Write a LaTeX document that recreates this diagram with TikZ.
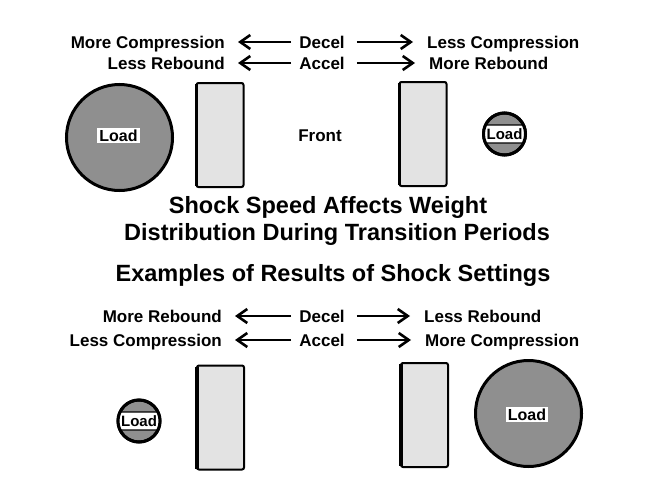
\documentclass[tikz,border=0pt]{standalone}
\usepackage{fontspec}
\setmainfont{Liberation Sans}
\usetikzlibrary{arrows.meta}

\definecolor{loadgray}{gray}{0.56}
\definecolor{shockgray}{gray}{0.89}

\tikzset{
  lbl/.style={font=\bfseries\fontsize{17}{19}\selectfont, inner sep=1pt, text height=12.3pt, text depth=0pt},
  ttl/.style={font=\bfseries\fontsize{23.5}{26}\selectfont, inner sep=0pt},
  larr/.style={-{Straight Barb[length=10pt,width=14pt]}, line width=2.6pt, shorten <=7pt, shorten >=12pt},
  rarr/.style={-{Straight Barb[length=10pt,width=14pt]}, line width=2.6pt, shorten <=11pt, shorten >=13pt},
  shockbox/.style={draw=black, line width=2pt, fill=shockgray, rounded corners=2pt, minimum width=47pt, minimum height=104pt, inner sep=0pt},
  bigload/.style={circle, draw=black, line width=3pt, fill=loadgray, minimum size=106pt, inner sep=0pt},
  smallload/.style={circle, draw=black, line width=3pt, fill=loadgray, minimum size=42pt, inner sep=0pt},
  loadtag/.style={fill=white, font=\bfseries\fontsize{16}{17}\selectfont, inner xsep=2pt, inner ysep=2pt, text height=11.5pt, text depth=0pt},
  bandtag/.style={draw=black, line width=1.3pt, fill=white, rounded corners=4pt, minimum width=46pt, minimum height=18pt, inner sep=0pt, text height=10.8pt, text depth=0pt, font=\bfseries\fontsize{15}{16}\selectfont},
}

\begin{document}
\begin{tikzpicture}[x=1pt, y=-1pt]
  \useasboundingbox (0,0) rectangle (660,495);

  % upper half: deceleration / acceleration
  \node[lbl, anchor=east] (mcompA) at (226,42) {More Compression};
  \node[lbl, anchor=east] (lrebA) at (226,63) {Less Rebound};
  \node[lbl] (decelA) at (322,42) {Decel};
  \node[lbl] (accelA) at (322,63) {Accel};
  \node[lbl, anchor=west] (lcompA) at (426,42) {Less Compression};
  \node[lbl, anchor=west] (mrebA) at (428,63) {More Rebound};
  \draw[larr] (decelA.west) -- (mcompA.east);
  \draw[larr] (accelA.west) -- (lrebA.east);
  \draw[rarr] (decelA.east) -- (lcompA.west);
  \draw[rarr] (accelA.east) -- (mrebA.west);

  \node[bigload] (loadA) at (119.5,137.5) {};
  \node[loadtag] at (118.5,135.5) {Load};
  \node[shockbox] (shockA) at (220,135) {};
  \draw[line width=3.5pt] ([xshift=0.8pt,yshift=-2pt]shockA.north west) -- ([xshift=0.8pt,yshift=2pt]shockA.south west);
  \node[lbl] (front) at (320,135) {Front};
  \node[shockbox] (shockB) at (423,134) {};
  \draw[line width=3.5pt] ([xshift=0.8pt,yshift=-2pt]shockB.north west) -- ([xshift=0.8pt,yshift=2pt]shockB.south west);
  \node[smallload] (loadB) at (504.5,134) {};
  \begin{scope}
    \clip (loadB.center) circle (21);
    \node[bandtag] at (loadB) {Load};
  \end{scope}
  \draw[line width=3pt] (loadB.center) circle (21);

  % titles
  \node[ttl] (title1) at (328,207) {Shock Speed Affects Weight};
  \node[ttl] (title2) at (337,234) {Distribution During Transition Periods};
  \node[ttl] (title3) at (333,275) {Examples of Results of Shock Settings};

  % lower half
  \node[lbl, anchor=east] (mrebC) at (223,316) {More Rebound};
  \node[lbl, anchor=east] (lcompC) at (223,340) {Less Compression};
  \node[lbl] (decelC) at (322,316) {Decel};
  \node[lbl] (accelC) at (322,340) {Accel};
  \node[lbl, anchor=west] (lrebC) at (423,316) {Less Rebound};
  \node[lbl, anchor=west] (mcompC) at (424,340) {More Compression};
  \draw[larr] (decelC.west) -- (mrebC.east);
  \draw[larr] (accelC.west) -- (lcompC.east);
  \draw[rarr] (decelC.east) -- (lrebC.west);
  \draw[rarr] (accelC.east) -- (mcompC.west);

  \node[smallload] (loadC) at (139,421) {};
  \begin{scope}
    \clip (loadC.center) circle (21);
    \node[bandtag] at (loadC) {Load};
  \end{scope}
  \draw[line width=3pt] (loadC.center) circle (21);
  \node[shockbox] (shockC) at (220.5,417.5) {};
  \draw[line width=3.5pt] ([xshift=0.8pt,yshift=-2pt]shockC.north west) -- ([xshift=0.8pt,yshift=2pt]shockC.south west);
  \node[shockbox] (shockD) at (424.5,415) {};
  \draw[line width=3.5pt] ([xshift=0.8pt,yshift=-2pt]shockD.north west) -- ([xshift=0.8pt,yshift=2pt]shockD.south west);
  \node[bigload] (loadD) at (528.5,413.5) {};
  \node[loadtag] at (527,414.5) {Load};
\end{tikzpicture}
\end{document}
